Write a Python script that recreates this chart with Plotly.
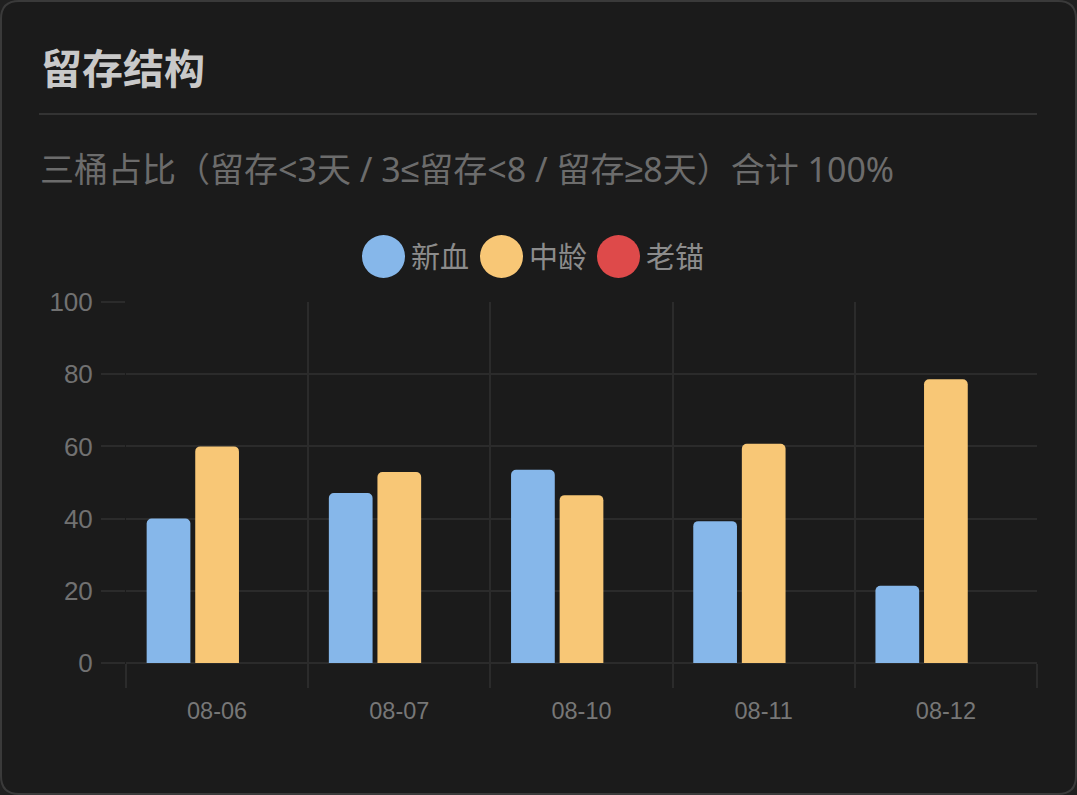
import plotly.graph_objects as go

# chart data
dates = ["08-06", "08-07", "08-10", "08-11", "08-12"]
series_names = ["新血", "中龄", "老锚"]
new_blood = [40.0, 47.1, 53.5, 39.3, 21.4]
middle_age = [60.0, 52.9, 46.5, 60.7, 78.6]
old_anchor = [0, 0, 0, 0, 0]
colors = ["#86b7ea", "#f8c776", "#de4a4a"]
y_ticks = [0, 20, 40, 60, 80, 100]

W, H = 1077, 795
CJK = "Noto Sans CJK SC"
MIXED = "Noto Sans, Liberation Sans, Noto Sans CJK SC"
GRID = "#2b2b2b"


def px(x):
    return x / W


def py(y):
    return 1 - y / H


def round_rect(x0, y0, x1, y1, r):
    """SVG path of a rounded rectangle, pixel coords -> paper coords"""
    pts = [
        f"M {px(x0 + r)},{py(y0)}",
        f"L {px(x1 - r)},{py(y0)}",
        f"Q {px(x1)},{py(y0)} {px(x1)},{py(y0 + r)}",
        f"L {px(x1)},{py(y1 - r)}",
        f"Q {px(x1)},{py(y1)} {px(x1 - r)},{py(y1)}",
        f"L {px(x0 + r)},{py(y1)}",
        f"Q {px(x0)},{py(y1)} {px(x0)},{py(y1 - r)}",
        f"L {px(x0)},{py(y0 + r)}",
        f"Q {px(x0)},{py(y0)} {px(x0 + r)},{py(y0)}",
        "Z",
    ]
    return " ".join(pts)


fig = go.Figure()
for name, vals, col in zip(series_names, [new_blood, middle_age, old_anchor], colors):
    fig.add_trace(go.Bar(
        x=dates, y=vals, name=name,
        marker=dict(color=col, line=dict(width=0)),
        showlegend=False,
    ))

shapes = [
    # card
    dict(type="path", path=round_rect(1, 1, W - 1, H - 1, 18),
         xref="paper", yref="paper", fillcolor="#1b1b1b",
         line=dict(color="#3a3a3a", width=2), layer="below"),
    # divider under the title
    dict(type="line", xref="paper", yref="paper",
         x0=px(39), x1=px(1037), y0=py(114), y1=py(114),
         line=dict(color="#333333", width=2), layer="below"),
]

annotations = [
    dict(text="<b>留存结构</b>", x=px(39), y=py(66), xref="paper", yref="paper",
         xanchor="left", yanchor="middle", showarrow=False,
         font=dict(family=CJK, size=41, color="#c9c9c9")),
    dict(text="三桶占比（留存<3天 / 3≤留存<8 / 留存≥8天）合计 100%",
         x=px(38), y=py(169), xref="paper", yref="paper",
         xanchor="left", yanchor="middle", showarrow=False,
         font=dict(family=MIXED, size=34, color="#6c6c6c")),
]

# legend: big round swatches like the original
legend_left = [362, 480, 597]
for name, col, x0 in zip(series_names, colors, legend_left):
    shapes.append(dict(type="circle", xref="paper", yref="paper",
                       x0=px(x0), x1=px(x0 + 43), y0=py(278), y1=py(235),
                       fillcolor=col, line=dict(width=0)))
    annotations.append(dict(text=name, x=px(x0 + 47), y=py(255),
                            xref="paper", yref="paper", xanchor="left",
                            yanchor="middle", showarrow=False,
                            font=dict(family=CJK, size=29, color="#8c8c8c")))

fig.update_layout(
    width=W, height=H,
    margin=dict(l=0, r=0, t=0, b=0, pad=0),
    paper_bgcolor="#202020",
    plot_bgcolor="rgba(0,0,0,0)",
    barmode="group",
    bargap=0.2,
    bargroupgap=0.1,
    barcornerradius=5,
    showlegend=False,
    shapes=shapes,
    annotations=annotations,
    xaxis=dict(
        domain=[px(126), px(1037)],
        type="category",
        automargin=False,
        tickson="boundaries",
        ticks="outside", ticklen=24, tickcolor=GRID, tickwidth=1.5,
        showgrid=True, gridcolor=GRID, gridwidth=1.5,
        showline=False, zeroline=False,
        ticklabelstandoff=31,
        tickfont=dict(family="Liberation Sans", size=23.5, color="#777777"),
    ),
    yaxis=dict(
        domain=[py(663), py(302)],
        range=[0, 100],
        automargin=False,
        tickvals=y_ticks,
        ticks="outside", ticklen=24, tickcolor=GRID, tickwidth=1.5,
        showgrid=True, gridcolor=GRID, gridwidth=1.5,
        zeroline=True, zerolinecolor=GRID, zerolinewidth=1.5,
        showline=False,
        ticklabelstandoff=3,
        tickfont=dict(family="Liberation Sans", size=26, color="#717171"),
    ),
)

fig.write_html("out.html", config={"displayModeBar": False},
               post_script="document.body.style.margin='0';document.body.style.overflow='hidden';")
